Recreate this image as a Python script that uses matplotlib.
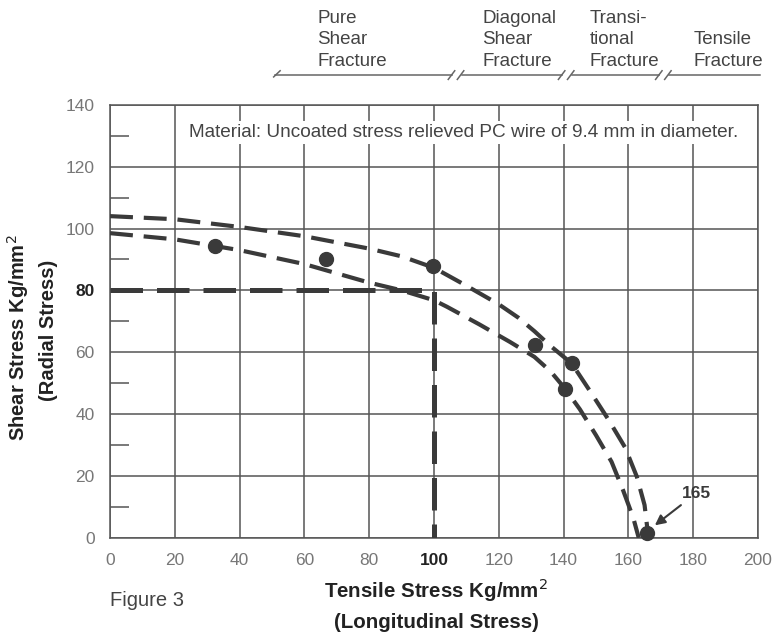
import matplotlib.pyplot as plt
import numpy as np

plt.rcParams['font.family'] = ['Liberation Sans', 'DejaVu Sans']

# outer envelope (upper dashed curve)
upper_x = [0, 20, 40, 60, 80, 90, 100, 110, 120, 126, 131, 136, 142.5,
           148, 153.8, 159, 162.6, 165, 166.2]
upper_y = [104, 103, 100.5, 97.5, 93.5, 91, 87.3, 81.5, 75.5, 71.2, 66.8,
           62, 56.4, 47.7, 38.3, 29.2, 19.8, 10.6, 0]
# inner envelope (lower dashed curve)
lower_x = [0, 20, 40, 60, 80, 90, 100, 104, 114, 123.5, 131, 136, 140.4,
           145, 150, 154.8, 158.4, 161.5, 163.2]
lower_y = [98.5, 96.5, 93, 88.5, 82.5, 80, 76.8, 74.7, 69, 63.3, 58.5, 53.8,
           48.3, 41.6, 33.2, 24.6, 15.3, 6.5, 0]
# measured points
pts_x = [32.5, 66.7, 99.7, 131.3, 142.5, 140.5, 165.7]
pts_y = [94.5, 90, 88, 62.5, 56.5, 48.2, 1.5]

# fracture zones along the top
zone_labels = ["Pure\nShear\nFracture", "Diagonal\nShear\nFracture",
               "Transi-\ntional\nFracture", "Tensile\nFracture"]
zone_label_x = [64, 115, 148, 180]
zone_breaks = [107, 141, 171]

DARK = "#3a3a3a"
GRAY = "#666666"
GRID = "#555555"

fig = plt.figure(figsize=(7.75, 6.35), dpi=100)
ax = fig.add_axes([0.142, 0.153, 0.836, 0.682])

ax.set_xlim(0, 200)
ax.set_ylim(0, 140)
ax.set_xticks(np.arange(0, 201, 20))
ax.set_yticks(np.arange(0, 141, 20))
ax.set_yticks(np.arange(10, 140, 20), minor=True)
ax.grid(True, which="major", color=GRID, linewidth=1.1)
ax.tick_params(axis="both", which="major", length=0, labelsize=12.5,
               labelcolor="#777777", pad=11)
ax.tick_params(axis="y", which="minor", direction="in", length=14,
               width=1.1, color=GRID)
for s in ax.spines.values():
    s.set_color(GRID)
    s.set_linewidth(1.1)

for lab in ax.get_xticklabels():
    if lab.get_text() == "100":
        lab.set_fontweight("bold")
        lab.set_color("#222222")
for lab in ax.get_yticklabels():
    if lab.get_text() == "80":
        lab.set_fontweight("bold")
        lab.set_color("#222222")

# 80 / 100 reference lines
ax.plot([0, 100, 100], [80, 80, 0], color=DARK, lw=3.6, dashes=(6.5, 2.8),
        zorder=3)

ax.plot(upper_x, upper_y, color=DARK, lw=3.0, dashes=(5.5, 2.6), zorder=4)
ax.plot(lower_x, lower_y, color=DARK, lw=3.0, dashes=(5.5, 2.6), zorder=4)
ax.scatter(pts_x, pts_y, s=100, color=DARK, zorder=5, clip_on=False)

ax.annotate("165", xy=(167.5, 3.5), xytext=(176.5, 13), fontsize=12.5,
            fontweight="bold", color=DARK,
            arrowprops=dict(arrowstyle="-|>", color=DARK, lw=1.5,
                            mutation_scale=15))

ax.text(24.5, 131, "Material: Uncoated stress relieved PC wire of 9.4 mm in diameter.",
        fontsize=13.7, color="#444444", va="center", ha="left",
        bbox=dict(facecolor="white", edgecolor="none", pad=2))

# top zone bar
yb = 149.6
segs = [51] + zone_breaks + [200.5]
for i in range(len(segs) - 1):
    a = segs[i] + (1.5 if i > 0 else 0)
    b = segs[i + 1] - (1.5 if i < len(segs) - 2 else 0)
    ax.plot([a, b], [yb, yb], color=GRAY, lw=1.1, clip_on=False)
ax.plot([50.5, 52.5], [yb - 0.6, yb + 1.4], color=GRAY, lw=1.1, clip_on=False)
for bx in zone_breaks:
    for d in (-1.6, 1.2):
        ax.plot([bx + d - 1, bx + d + 1], [yb - 1.4, yb + 1.4], color=GRAY,
                lw=1.1, clip_on=False)
for lab, lx in zip(zone_labels, zone_label_x):
    ax.text(lx, yb + 1.8, lab, fontsize=13.5, color="#444444", ha="left",
            va="bottom", linespacing=1.32, clip_on=False)

# axis titles
fig.text(436 / 775, 1 - 590 / 635, "Tensile Stress Kg/mm$^{2}$", fontsize=14.8,
         fontweight="bold", color="#222222", ha="center", va="center")
fig.text(436 / 775, 1 - 622 / 635, "(Longitudinal Stress)", fontsize=14.8,
         fontweight="bold", color="#222222", ha="center", va="center")
fig.text(18 / 775, 1 - 338 / 635, "Shear Stress Kg/mm$^{2}$", fontsize=14.5,
         fontweight="bold", color="#222222", ha="center", va="center",
         rotation=90)
fig.text(49 / 775, 1 - 330 / 635, "(Radial Stress)", fontsize=14.5,
         fontweight="bold", color="#222222", ha="center", va="center",
         rotation=90)

fig.text(110 / 775, 1 - 600 / 635, "Figure 3", fontsize=14.5, color="#444444",
         ha="left", va="center")

plt.savefig("out.png", dpi=100)
